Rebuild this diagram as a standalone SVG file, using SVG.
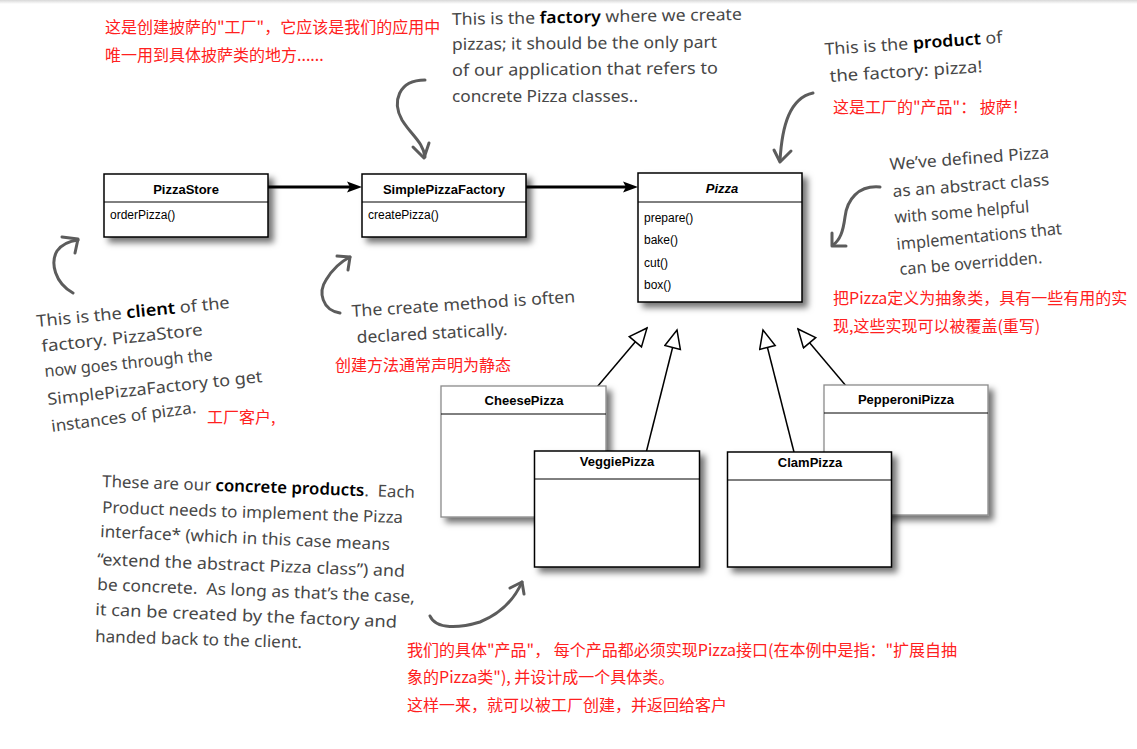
<svg xmlns="http://www.w3.org/2000/svg" width="1137" height="749" viewBox="0 0 1137 749">
<style>
.box{fill:#fff;stroke:#000;stroke-width:1.5}
.boxg{fill:#fff;stroke:#8a8a8a;stroke-width:1.3}
.div{stroke:#000;stroke-width:1}
.cn{font-family:"Liberation Sans",Arial,sans-serif;font-weight:bold;font-size:13px;fill:#000;text-anchor:middle}
.m{font-family:"Liberation Sans",Arial,sans-serif;font-size:12px;fill:#000}
.hw{font-family:"Noto Sans","Open Sans",sans-serif;font-size:16.5px;fill:#474747}
.hb{fill:#000;font-weight:600}
.zh{font-family:"Noto Sans CJK SC","Noto Sans",sans-serif;font-size:16px;fill:#ff2020}
.cur{fill:none;stroke:#5c5c5c;stroke-width:3;stroke-linecap:round;stroke-linejoin:round}
.assoc{stroke:#000;stroke-width:3;fill:none}
.gen{stroke:#000;stroke-width:1.5;fill:none;marker-end:url(#tri)}
</style>
<defs>
<filter id="sh" x="-20%" y="-20%" width="150%" height="150%">
<feDropShadow dx="5" dy="5" stdDeviation="3" flood-color="#000" flood-opacity="0.55"/>
</filter>
<marker id="tri" markerUnits="userSpaceOnUse" markerWidth="22" markerHeight="20" viewBox="0 0 22 20" refX="20" refY="9" orient="auto">
<path d="M2,1 L20,9 L2,17 Z" fill="#fff" stroke="#000" stroke-width="1.5"/>
</marker>
<linearGradient id="topg" x1="0" y1="0" x2="0" y2="1">
<stop offset="0" stop-color="#d8d8d8"/><stop offset="1" stop-color="#fff"/>
</linearGradient>
</defs>
<rect x="0" y="0" width="1137" height="749" fill="#fff"/>
<rect x="0" y="0" width="1137" height="4" fill="url(#topg)"/>

<g id="connectors">
<line class="assoc" x1="268" y1="187" x2="352" y2="187"/>
<path d="M347,181.5 L362,187 L347,192.5 L350,187 Z" fill="#000"/>
<line class="assoc" x1="526" y1="187" x2="628" y2="187"/>
<path d="M623,181.5 L638,187 L623,192.5 L626,187 Z" fill="#000"/>
<line class="gen" x1="592" y1="393" x2="647" y2="328"/>
<line class="gen" x1="644.5" y1="459" x2="677" y2="330"/>
<line class="gen" x1="796" y1="460" x2="763" y2="330"/>
<line class="gen" x1="852" y1="393" x2="798" y2="329"/>
</g>

<g id="PizzaStore">
<rect class="box" x="104" y="174" width="164" height="63" filter="url(#sh)"/>
<line class="div" x1="104" y1="202" x2="268" y2="202"/>
<text class="cn" x="186" y="194">PizzaStore</text>
<text class="m" x="110" y="219">orderPizza()</text>
</g>
<g id="SimplePizzaFactory">
<rect class="box" x="362" y="174" width="164" height="63" filter="url(#sh)"/>
<line class="div" x1="362" y1="202" x2="526" y2="202"/>
<text class="cn" x="444" y="194">SimplePizzaFactory</text>
<text class="m" x="368" y="219">createPizza()</text>
</g>
<g id="Pizza">
<rect class="box" x="638" y="173" width="164" height="129" filter="url(#sh)"/>
<line class="div" x1="638" y1="202" x2="802" y2="202"/>
<text class="cn" x="722" y="193" font-style="italic">Pizza</text>
<text class="m" x="644" y="222">prepare()</text>
<text class="m" x="644" y="244">bake()</text>
<text class="m" x="644" y="267">cut()</text>
<text class="m" x="644" y="289">box()</text>
</g>
<g id="CheesePizza">
<rect class="boxg" x="441" y="386" width="165" height="131" filter="url(#sh)"/>
<line x1="441" y1="414" x2="606" y2="414" stroke="#000" stroke-width="1"/>
<text class="cn" x="524" y="405">CheesePizza</text>
</g>
<g id="PepperoniPizza">
<rect class="boxg" x="824" y="385" width="164" height="130" filter="url(#sh)"/>
<line x1="824" y1="413" x2="988" y2="413" stroke="#000" stroke-width="1"/>
<text class="cn" x="906" y="404">PepperoniPizza</text>
</g>
<g id="VeggiePizza">
<rect class="box" x="534.5" y="451" width="165" height="116" filter="url(#sh)"/>
<line class="div" x1="534.5" y1="479" x2="699.5" y2="479"/>
<text class="cn" x="617" y="466">VeggiePizza</text>
</g>
<g id="ClamPizza">
<rect class="box" x="727.5" y="452" width="164" height="115" filter="url(#sh)"/>
<line class="div" x1="727.5" y1="480" x2="891.5" y2="480"/>
<text class="cn" x="810" y="467">ClamPizza</text>
</g>

<g id="note-factory">
<path class="cur" d="M425,80 C 398,80 392,102 402,120 C 412,136 423,142 425,157"/>
<path class="cur" d="M413,147 L424,158 L429,143"/>
<text class="hw" x="452" y="25" textLength="290" lengthAdjust="spacingAndGlyphs" transform="rotate(-1 452 25)">This is the <tspan class="hb">factory</tspan> where we create</text>
<text class="hw" x="452" y="50" textLength="265" lengthAdjust="spacingAndGlyphs" transform="rotate(-0.5 452 50)">pizzas; it should be the only part</text>
<text class="hw" x="452" y="76" textLength="266" lengthAdjust="spacingAndGlyphs" transform="rotate(-0.5 452 76)">of our application that refers to</text>
<text class="hw" x="452" y="102" textLength="186" lengthAdjust="spacingAndGlyphs">concrete Pizza classes..</text>
<text class="zh" x="105" y="33">这是创建披萨的"工厂"，它应该是我们的应用中</text>
<text class="zh" x="105" y="61">唯一用到具体披萨类的地方......</text>
</g>

<g id="note-product">
<path class="cur" d="M813,93 C 790,98 782,125 780,161"/>
<path class="cur" d="M774,150 L780,162 L791,151"/>
<text class="hw" x="825" y="55" textLength="178" lengthAdjust="spacingAndGlyphs" transform="rotate(-3.9 825 55)">This is the <tspan class="hb">product</tspan> of</text>
<text class="hw" x="830" y="82" textLength="153" lengthAdjust="spacingAndGlyphs" transform="rotate(-3.7 830 82)">the factory: pizza!</text>
<text class="zh" x="833" y="113">这是工厂的"产品"： 披萨！</text>
</g>

<g id="note-abstract">
<path class="cur" d="M880,187 C 858,185 847,200 845,217 C 843,232 840,240 833,245"/>
<path class="cur" d="M832,233 L832,246 L846,246"/>
<text class="hw" x="890" y="170" textLength="160" lengthAdjust="spacingAndGlyphs" transform="rotate(-4.3 890 170)">We’ve defined Pizza</text>
<text class="hw" x="893" y="197" textLength="157" lengthAdjust="spacingAndGlyphs" transform="rotate(-4.3 893 197)">as an abstract class</text>
<text class="hw" x="895" y="223" textLength="135" lengthAdjust="spacingAndGlyphs" transform="rotate(-4.6 895 223)">with some helpful</text>
<text class="hw" x="897" y="250" textLength="166" lengthAdjust="spacingAndGlyphs" transform="rotate(-5.5 897 250)">implementations that</text>
<text class="hw" x="900" y="275" textLength="143" lengthAdjust="spacingAndGlyphs" transform="rotate(-4.8 900 275)">can be overridden.</text>
<text class="zh" x="833" y="304">把Pizza定义为抽象类，具有一些有用的实</text>
<text class="zh" x="833" y="332">现,这些实现可以被覆盖(重写)</text>
</g>

<g id="note-client">
<path class="cur" d="M73,293 C 55,283 50,263 57,251 C 62,244 70,241 78,240"/>
<path class="cur" d="M62,237 L78,239 L75,253"/>
<text class="hw" x="37" y="327" textLength="194" lengthAdjust="spacingAndGlyphs" transform="rotate(-5.6 37 327)">This is the <tspan class="hb">client</tspan> of the</text>
<text class="hw" x="42" y="352" textLength="162" lengthAdjust="spacingAndGlyphs" transform="rotate(-6 42 352)">factory. PizzaStore</text>
<text class="hw" x="45" y="377" textLength="169" lengthAdjust="spacingAndGlyphs" transform="rotate(-5.7 45 377)">now goes through the</text>
<text class="hw" x="48" y="405" textLength="216" lengthAdjust="spacingAndGlyphs" transform="rotate(-6.1 48 405)">SimplePizzaFactory to get</text>
<text class="hw" x="52" y="432" textLength="146" lengthAdjust="spacingAndGlyphs" transform="rotate(-7.5 52 432)">instances of pizza.</text>
<text class="zh" x="207" y="423">工厂客户,</text>
</g>

<g id="note-static">
<path class="cur" d="M340,313 C 322,310 318,292 326,280 C 332,270 340,262 350,257"/>
<path class="cur" d="M337,256 L350,257 L348,270"/>
<text class="hw" x="352" y="317" textLength="224" lengthAdjust="spacingAndGlyphs" transform="rotate(-3.8 352 317)">The create method is often</text>
<text class="hw" x="357" y="343" textLength="151" lengthAdjust="spacingAndGlyphs" transform="rotate(-3 357 343)">declared statically.</text>
<text class="zh" x="335" y="371">创建方法通常声明为静态</text>
</g>

<g id="note-concrete">
<path class="cur" d="M430,616 C 436,630 460,628 480,622 C 500,614 514,600 522,582"/>
<path class="cur" d="M510,588 L522,582 L524,594"/>
<text class="hw" xml:space="preserve" x="102" y="487" textLength="313" lengthAdjust="spacingAndGlyphs" transform="rotate(2 102 487)">These are our <tspan class="hb">concrete products</tspan>.  Each</text>
<text class="hw" x="102" y="513" textLength="301" lengthAdjust="spacingAndGlyphs" transform="rotate(1.9 102 513)">Product needs to implement the Pizza</text>
<text class="hw" x="100" y="537" textLength="290" lengthAdjust="spacingAndGlyphs" transform="rotate(2.6 100 537)">interface* (which in this case means</text>
<text class="hw" x="97" y="565" textLength="308" lengthAdjust="spacingAndGlyphs" transform="rotate(2.2 97 565)">“extend the abstract Pizza class”) and</text>
<text class="hw" xml:space="preserve" x="97" y="590" textLength="318" lengthAdjust="spacingAndGlyphs" transform="rotate(2.3 97 590)">be concrete.  As long as that’s the case,</text>
<text class="hw" x="95" y="615" textLength="302" lengthAdjust="spacingAndGlyphs" transform="rotate(2.4 95 615)">it can be created by the factory and</text>
<text class="hw" x="95" y="642" textLength="207" lengthAdjust="spacingAndGlyphs" transform="rotate(1.7 95 642)">handed back to the client.</text>
<text class="zh" x="407" y="656">我们的具体"产品"， 每个产品都必须实现Pizza接口(在本例中是指："扩展自抽</text>
<text class="zh" x="407" y="683">象的Pizza类"), 并设计成一个具体类。</text>
<text class="zh" x="407" y="711">这样一来，就可以被工厂创建，并返回给客户</text>
</g>
</svg>
